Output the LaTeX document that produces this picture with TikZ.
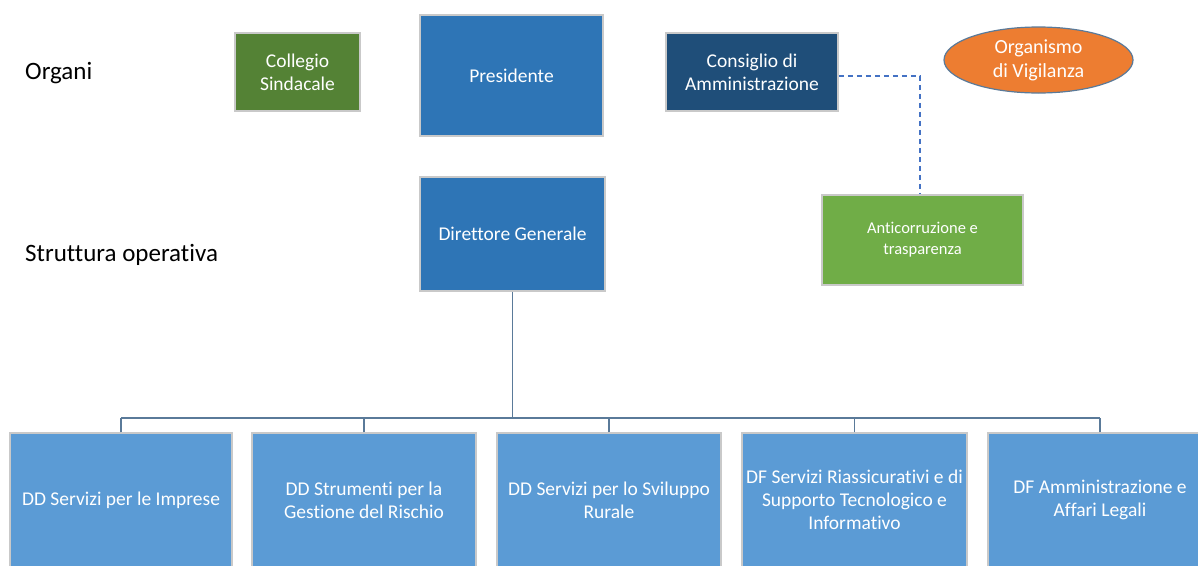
\documentclass[tikz,border=0pt]{standalone}
\usepackage{fontspec}
\setmainfont[Ligatures={NoCommon}]{Carlito}
\usetikzlibrary{shapes.geometric,calc}
\definecolor{cgreen}{HTML}{548235}
\definecolor{lgreen}{HTML}{70AD47}
\definecolor{mblue}{HTML}{2E75B6}
\definecolor{dblue}{HTML}{1F4E79}
\definecolor{lblue}{HTML}{5B9BD5}
\definecolor{orng}{HTML}{ED7D31}
\definecolor{edge}{HTML}{C9C9C9}
\definecolor{treec}{HTML}{5A7A99}
\definecolor{dashc}{HTML}{4472C4}
\tikzset{
  box/.style={draw=edge, line width=1.5pt, text=white, align=center, inner sep=2pt,
    font=\fontsize{19.5}{23}\selectfont},
  smallbox/.style={box, font=\fontsize{16.5}{21}\selectfont},
  lbl/.style={anchor=west, inner sep=0pt, font=\fontsize{25}{30}\selectfont},
  tree/.style={draw=treec, line width=1.6pt},
  dashline/.style={draw=dashc, line width=1.4pt, dash pattern=on 5pt off 4pt}
}
\begin{document}
\begin{tikzpicture}[x=1pt,y=-1pt]
\useasboundingbox (0,0) rectangle (1198,565);
\clip (0,0) rectangle (1198,565);
\fill[white] (0,0) rectangle (1198,565);

\node[lbl] (organi) at (25,73) {Organi};
\node[lbl] (strutt) at (25,255) {Struttura operativa};

\node[box, fill=cgreen, minimum width=125pt, minimum height=78pt] (cs) at (297.5,72) {Collegio\\Sindacale};
\node[box, fill=mblue, minimum width=183pt, minimum height=121pt] (pres) at (511.5,75.5) {Presidente};
\node[box, fill=dblue, minimum width=172pt, minimum height=78pt] (cda) at (752,72) {Consiglio di\\Amministrazione};
\node[ellipse, draw=treec, line width=1.2pt, fill=orng, text=white, align=center, inner sep=0pt,
  minimum width=189pt, minimum height=66pt, font=\fontsize{20}{24}\selectfont] (odv) at (1038.5,60) {Organismo\\di Vigilanza};

\node[box, fill=mblue, minimum width=185pt, minimum height=114pt] (dg) at (512.5,234) {Direttore Generale};
\node[smallbox, fill=lgreen, minimum width=201pt, minimum height=90pt] (anti) at (922.5,240) {Anticorruzione e\\trasparenza};

\node[box, fill=lblue, minimum width=222pt, minimum height=134pt] (b1) at (121,500) {DD Servizi per le Imprese};
\node[box, fill=lblue, minimum width=224pt, minimum height=134pt] (b2) at (364,500) {DD Strumenti per la\\Gestione del Rischio};
\node[box, fill=lblue, minimum width=224pt, minimum height=134pt] (b3) at (609,500) {DD Servizi per lo Sviluppo\\Rurale};
\node[box, fill=lblue, minimum width=225pt, minimum height=134pt] (b4) at (854.5,500) {DF Servizi Riassicurativi e di\\Supporto Tecnologico e\\Informativo};
\node[box, fill=lblue, minimum width=224pt, minimum height=134pt] (b5) at (1100,500) {DF Amministrazione e\\Affari Legali};

\coordinate (bus) at (0,418);
\draw[tree] (dg.south) -- (dg.south |- bus);
\draw[tree] (b1.north |- bus) -- (b5.north |- bus);
\foreach \b in {b1,b2,b3,b4,b5} {
  \draw[tree] (\b.north) -- (\b.north |- bus);
}

\draw[dashline] ([yshift=-4pt]cda.east) -| ([xshift=-2.5pt]anti.north);
\end{tikzpicture}
\end{document}
